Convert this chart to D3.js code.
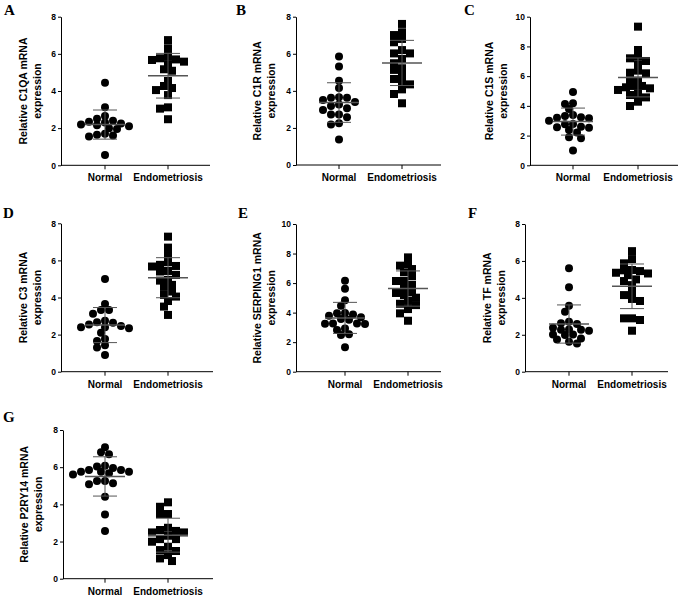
<!DOCTYPE html>
<html lang="en">
<head>
  <meta charset="UTF-8" />
  <title>Complement gene expression</title>
  <script src="https://d3js.org/d3.v7.min.js"></script>
  <style>
    body { margin: 0; background: #fff; }
    text { font-family: "Liberation Sans", Arial, sans-serif; }
    .tick text { font-size: 8.5px; font-weight: bold; }
    .xlab { font-size: 10px; font-weight: bold; }
    .ytitle { font-size: 10.5px; font-weight: bold; }
    .letter { font-family: "Liberation Serif", "Times New Roman", serif; font-size: 15px; font-weight: bold; }
  </style>
</head>
<body>
  <svg width="685" height="600"></svg>

  <script>
    const categories = ["Normal", "Endometriosis"];
    const letters = ["A", "B", "C", "D", "E", "F", "G"];
    const genes = ["C1QA", "C1R", "C1S", "C3", "SERPING1", "TF", "P2RY14"];
    const yMax = [8, 8, 10, 8, 10, 8, 8];

    const c1qaNormal = [4.45, 3.12, 2.65, 2.5, 2.4, 2.35, 2.3, 2.25, 2.2, 2.15, 2.1, 2.0, 1.95, 1.7, 1.65, 1.6, 1.55, 0.55];
    const c1qaEndo = [6.74, 6.3, 5.88, 5.76, 5.7, 5.58, 5.67, 5.45, 5.17, 5.09, 4.54, 4.27, 4.16, 4.05, 3.78, 3.12, 3.05, 2.48];
    const c1rNormal = [5.85, 5.31, 4.55, 4.15, 3.65, 3.63, 3.63, 3.4, 3.18, 3.06, 3.51, 3.27, 2.97, 2.73, 2.57, 2.73, 2.25, 2.19, 1.38];
    const c1rEndo = [7.61, 7.01, 7.16, 6.8, 6.62, 6.2, 6.02, 6.02, 5.72, 5.49, 5.22, 5.13, 4.86, 4.64, 4.5, 4.35, 4.08, 3.83, 3.33];
    const c1sNormal = [4.93, 4.13, 4.17, 3.79, 3.39, 3.32, 3.16, 3.0, 3.2, 3.23, 2.76, 2.78, 2.6, 2.56, 2.53, 2.38, 2.2, 1.88, 1.82, 0.99];
    const c1sEndo = [9.33, 7.76, 7.31, 7.2, 7.02, 6.79, 6.37, 6.19, 6.23, 5.7, 5.7, 5.34, 5.34, 5.25, 5.18, 5.07, 4.73, 4.57, 4.8, 4.28, 3.99];
    const c3Normal = [5.0, 3.65, 3.33, 3.33, 3.13, 2.75, 2.66, 2.64, 2.55, 2.39, 2.39, 2.46, 2.34, 2.1, 1.76, 1.65, 1.31, 1.42, 0.9];
    const c3Endo = [7.28, 6.69, 6.29, 5.9, 5.76, 5.67, 5.7, 5.43, 5.4, 5.22, 4.95, 4.91, 4.68, 4.57, 4.32, 4.14, 4.05, 3.81, 3.51, 3.06];
    const serping1Normal = [6.16, 5.62, 4.83, 4.47, 3.97, 3.95, 3.88, 3.79, 3.68, 3.52, 3.57, 3.27, 3.25, 3.27, 3.23, 2.93, 2.82, 2.53, 2.48, 1.65];
    const serping1Endo = [7.74, 7.18, 7.29, 6.95, 6.73, 6.46, 6.14, 6.14, 5.87, 5.64, 5.37, 5.33, 5.19, 5.01, 4.6, 4.79, 4.51, 4.24, 3.95, 3.45];
    const tfNormal = [5.6, 4.57, 3.57, 3.25, 2.62, 2.38, 2.7, 2.58, 2.29, 2.27, 2.27, 2.22, 2.02, 1.99, 2.02, 1.75, 1.8, 1.62, 1.53];
    const tfEndo = [6.53, 6.1, 5.87, 5.51, 5.49, 5.36, 5.23, 5.45, 5.32, 5.0, 4.91, 4.69, 4.33, 4.15, 3.94, 3.83, 2.89, 2.89, 2.8, 2.22];
    const p2ry14Normal = [7.07, 6.8, 6.69, 6.08, 6.03, 5.95, 5.85, 5.85, 5.76, 5.76, 5.76, 5.67, 5.61, 5.26, 5.13, 5.08, 5.26, 4.41, 3.46, 2.57];
    const p2ry14Endo = [4.11, 3.87, 3.48, 3.48, 2.49, 2.49, 2.31, 2.62, 2.74, 2.57, 2.13, 2.13, 1.99, 1.72, 1.54, 1.49, 1.27, 1.09, 0.95];

    const normalSeries = [c1qaNormal, c1rNormal, c1sNormal, c3Normal, serping1Normal, tfNormal, p2ry14Normal];
    const endoSeries = [c1qaEndo, c1rEndo, c1sEndo, c3Endo, serping1Endo, tfEndo, p2ry14Endo];

    // panel placement on the page
    const layout = [
      { ax: 61, top: 16.7, bot: 165.3, xEnd: 210, t1: 105, t2: 168, lx: 4, ly: 15, tdx: -34 },
      { ax: 296, top: 16.7, bot: 165, xEnd: 441, t1: 339, t2: 402, lx: 236, ly: 15, tdx: -35 },
      { ax: 530, top: 16.7, bot: 165.3, xEnd: 678, t1: 573, t2: 638, lx: 464, ly: 15, tdx: -37 },
      { ax: 61, top: 223.3, bot: 371.7, xEnd: 213, t1: 105, t2: 168, lx: 3, ly: 218, tdx: -34 },
      { ax: 296, top: 224, bot: 371.7, xEnd: 441, t1: 345, t2: 408, lx: 238, ly: 218, tdx: -35 },
      { ax: 525, top: 224, bot: 371.7, xEnd: 668, t1: 569, t2: 632, lx: 468, ly: 218, tdx: -34 },
      { ax: 63, top: 430, bot: 578.7, xEnd: 213, t1: 105, t2: 168, lx: 3, ly: 422, tdx: -35 }
    ];

    const svg = d3.select("svg");
    const r = 4;

    // simple beeswarm so the dots spread sideways like the prism scatter
    function swarm(values, y, cx) {
      const pts = values.map(v => ({ v, py: y(v) })).sort((a, b) => a.py - b.py);
      const placed = [];
      pts.forEach(p => {
        for (let k = 0; k < 40; k++) {
          const off = k === 0 ? 0 : (k % 2 ? -1 : 1) * Math.ceil(k / 2) * r;
          const ok = placed.every(q => Math.hypot(q.px - (cx + off), q.py - p.py) >= 2 * r * 0.78);
          if (ok) { p.px = cx + off; break; }
        }
        if (p.px === undefined) p.px = cx;
        placed.push(p);
      });
      return pts;
    }

    genes.forEach((gene, i) => {
      const L = layout[i];
      const g = svg.append("g");

      const y = d3.scaleLinear().domain([0, yMax[i]]).range([L.bot, L.top]);
      const x = d3.scalePoint().domain(categories).range([L.t1, L.t2]);

      g.append("g")
        .attr("transform", `translate(${L.ax},0)`)
        .call(d3.axisLeft(y).tickValues(d3.range(0, yMax[i] + 1, 2)).tickSize(3).tickPadding(2).tickSizeOuter(0))
        .call(a => a.selectAll("line, path").attr("stroke", "#000"));

      const xa = g.append("g").attr("transform", `translate(0,${L.bot})`);
      xa.append("line").attr("x1", L.ax).attr("x2", L.xEnd).attr("stroke", "#000");
      categories.forEach(c => {
        xa.append("line").attr("x1", x(c)).attr("x2", x(c)).attr("y2", 4).attr("stroke", "#000");
        xa.append("text").attr("class", "xlab").attr("x", x(c)).attr("y", 16)
          .attr("text-anchor", "middle").text(c);
      });

      // axis title
      const midY = (L.top + L.bot) / 2;
      const title = g.append("text").attr("class", "ytitle")
        .attr("transform", `translate(${L.ax + L.tdx},${midY}) rotate(-90)`)
        .attr("text-anchor", "middle");
      title.append("tspan").attr("x", 0).attr("y", 0).text(`Relative ${gene} mRNA`);
      title.append("tspan").attr("x", 0).attr("y", 14).text("expression");

      g.append("text").attr("class", "letter").attr("x", L.lx).attr("y", L.ly).text(letters[i]);

      [normalSeries[i], endoSeries[i]].forEach((vals, k) => {
        const cx = x(categories[k]);
        const pts = swarm(vals, y, cx);
        if (k === 0) {
          g.selectAll(null).data(pts).join("circle")
            .attr("cx", d => d.px).attr("cy", d => d.py).attr("r", r).attr("fill", "#000");
        } else {
          g.selectAll(null).data(pts).join("rect")
            .attr("x", d => d.px - r).attr("y", d => d.py - r)
            .attr("width", 2 * r).attr("height", 2 * r).attr("fill", "#000");
        }

        const m = d3.mean(vals), sd = d3.deviation(vals);
        const eb = g.append("g").attr("stroke", "#555");
        eb.append("line").attr("x1", cx - 20).attr("x2", cx + 20)
          .attr("y1", y(m)).attr("y2", y(m)).attr("stroke-width", 1.5);
        eb.append("line").attr("x1", cx).attr("x2", cx)
          .attr("y1", y(m + sd)).attr("y2", y(m - sd)).attr("stroke-width", 1);
        [m + sd, m - sd].forEach(v => {
          eb.append("line").attr("x1", cx - 12).attr("x2", cx + 12)
            .attr("y1", y(v)).attr("y2", y(v)).attr("stroke-width", 1);
        });
      });
    });
  </script>
</body>
</html>
